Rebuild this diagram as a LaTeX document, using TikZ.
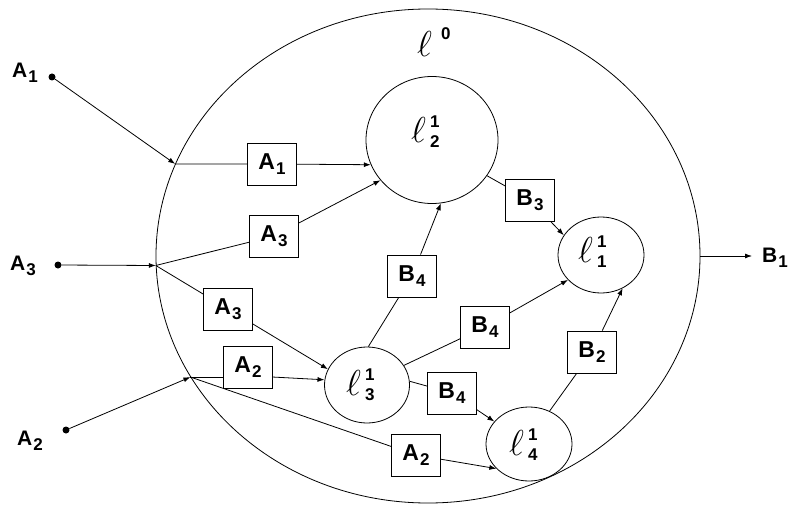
\documentclass[tikz,border=0pt]{standalone}
\usepackage{graphicx}
\usepackage{fontspec}
\setmainfont{Liberation Sans}
\usetikzlibrary{shapes.geometric,arrows.meta}
\newcommand{\bl}[2]{#1\kern1pt\raisebox{-5pt}{\fontsize{17}{17}\selectfont #2}}
\newcommand{\digs}{\bfseries\fontsize{17}{17}\selectfont}
\newcommand{\bigell}{\scalebox{1.45}{\fontsize{24.88}{26}\selectfont$\ell$}}
\newcommand{\ellab}[2]{\bigell\kern4pt\rlap{\raisebox{15pt}{\digs #1}}\raisebox{-5pt}{\digs #2}}
\tikzset{
  every node/.style={inner sep=0pt},
  lbox/.style={draw, line width=0.8pt, minimum width=49pt, minimum height=42pt, font=\bfseries\fontsize{23}{23}\selectfont},
  lcirc/.style={draw, ellipse, line width=0.8pt},
  conn/.style={line width=0.8pt},
  arr/.style={conn, -{Latex[length=7pt,width=5pt]}},
  enddot/.style={circle, fill, minimum size=7pt},
  ext/.style={anchor=base west, font=\bfseries\fontsize{21}{21}\selectfont}
}
\begin{document}
\begin{tikzpicture}[x=1pt,y=-1pt]
\useasboundingbox (0,0) rectangle (792,505);
% outer process
\node[draw, ellipse, line width=0.8pt, minimum width=544pt, minimum height=494pt] (L0) at (428,256) {};
\node[anchor=base west] (t0) at (417,57) {\bigell\kern9pt\raisebox{17pt}{\digs 0}};
% inner processes
\node[lcirc, minimum width=132pt, minimum height=127pt, text depth=0pt] (l2) at (432,140) {};
\node[anchor=base west] (t2) at (411,143) {\ellab12};
\node[lcirc, minimum width=86pt, minimum height=76pt] (l1) at (601,255) {};
\node[anchor=base west] (t1) at (578,262) {\ellab11};
\node[lcirc, minimum width=85pt, minimum height=76pt] (l3) at (367,385) {};
\node[anchor=base west] (t3) at (346,395) {\ellab13};
\node[lcirc, minimum width=86pt, minimum height=74pt] (l4) at (529,444) {};
\node[anchor=base west] (t4) at (509,455) {\ellab14};
% boxes
\node[lbox] (bA1) at (272,164) {\bl{A}{1}};
\node[lbox] (bA3a) at (274,236) {\bl{A}{3}};
\node[lbox] (bA3b) at (228,309) {\bl{A}{3}};
\node[lbox] (bA2a) at (248,367) {\bl{A}{2}};
\node[lbox] (bB4a) at (412,276) {\bl{B}{4}};
\node[lbox] (bB4b) at (485,327) {\bl{B}{4}};
\node[lbox] (bB4c) at (452,393) {\bl{B}{4}};
\node[lbox] (bA2b) at (416,455) {\bl{A}{2}};
\node[lbox] (bB2) at (592,352) {\bl{B}{2}};
\node[lbox] (bB3) at (530,200) {\bl{B}{3}};
% external points
\node[enddot] (pA1) at (52,77) {};
\node[enddot] (pA3) at (58,265) {};
\node[enddot] (pA2) at (66,430) {};
\coordinate (pB1) at (752,256);
\node[ext] (tA1) at (12,78) {\bl{A}{1}};
\node[ext] (tA3) at (10,270) {\bl{A}{3}};
\node[ext] (tA2) at (17,445) {\bl{A}{2}};
\node[ext] (tB1) at (762,262) {\bl{B}{1}};
% junctions
\coordinate (J1) at (L0.160);
\coordinate (J3) at (L0.182);
\coordinate (J2) at (L0.207);
% connectors
\draw[arr] (pA1) -- (J1);
\draw[arr] (pA3) -- (J3);
\draw[arr] (pA2) -- (J2);
\draw[conn] (J1) -- (bA1);
\draw[arr] (bA1) -- (l2.202);
\draw[conn] (J3) -- (bA3a);
\draw[arr] (bA3a) -- (l2.218);
\draw[conn] (J3) -- (bA3b);
\draw[arr] (bA3b) -- (l3.158);
\draw[conn] (J2) -- (J2 -| bA2a.west);
\draw[arr] (J2 -| bA2a.east) -- (l3.173);
\draw[conn] (J2) -- (bA2b);
\draw[arr] (bA2b) -- (l4.217);
\draw[conn] (l3.88) -- (bB4a);
\draw[arr] (bB4a) -- (l2.278);
\draw[conn] (l3.28) -- (bB4b);
\draw[arr] (bB4b) -- (l1.217);
\draw[conn] (l3.5) -- (bB4c);
\draw[arr] (bB4c) -- (l4.147);
\draw[conn] (l4.58) -- (bB2);
\draw[arr] (bB2) -- (l1.303);
\draw[conn] (l2.327) -- (bB3);
\draw[arr] (bB3) -- (l1.152);
\draw[arr] (L0.east) -- (pB1);
\end{tikzpicture}
\end{document}
